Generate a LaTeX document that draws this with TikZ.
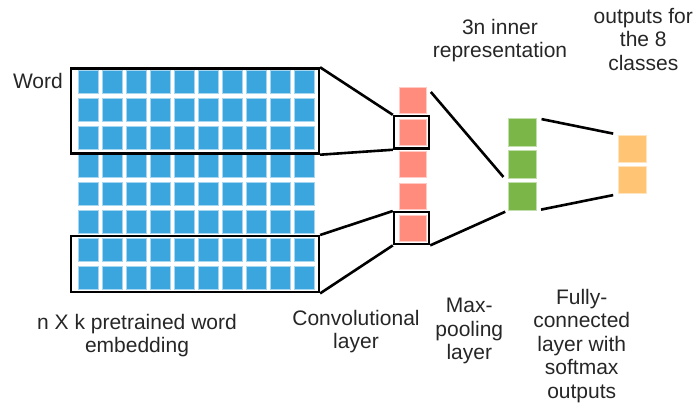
\documentclass[tikz,border=0pt]{standalone}
\usepackage{fontspec}
\setmainfont{Liberation Sans}
\definecolor{embblue}{HTML}{3BA5DD}
\definecolor{convred}{HTML}{FF8C7C}
\definecolor{poolgreen}{HTML}{7AB648}
\definecolor{outorange}{HTML}{FFC474}
\tikzset{
  cell/.style={draw=white!55!#1, line width=0.7pt, fill=#1, inner sep=0pt},
  window/.style={draw=black, line width=2.4pt, inner sep=0pt},
  link/.style={draw=black, line width=2.6pt},
  lbl/.style={font=\fontsize{21}{23.5}\selectfont, align=center, inner sep=0pt, text=black!85}
}
\begin{document}
\begin{tikzpicture}[x=1pt,y=-1pt]
\useasboundingbox (0,0) rectangle (695,409);

% n x k embedding matrix
\foreach \r in {1,...,8}{
  \foreach \c in {1,...,10}{
    \node[cell=embblue, minimum width=20pt, minimum height=23pt]
      (e-\r-\c) at ({88+24*(\c-1)}, {82.2+28*(\r-1)}) {};
  }
}
% filter windows over the matrix
\node[window, minimum width=248pt, minimum height=85pt] (winA) at (194.9,111) {};
\node[window, minimum width=248pt, minimum height=56pt] (winB) at (194.9,264.2) {};

% convolutional layer
\foreach \i/\y in {1/100,2/132,3/164,4/196,5/228}{
  \node[cell=convred, minimum width=26.5pt, minimum height=26pt] (cv\i) at (412.7,\y) {};
}
\node[window, minimum width=35pt, minimum height=32.5pt] (winC) at (411.5,132.3) {};
\node[window, minimum width=35pt, minimum height=32pt] (winD) at (411.5,228.2) {};

% max-pooling layer
\foreach \i/\y in {1/132.2,2/164.4,3/196.4}{
  \node[cell=poolgreen, minimum width=28pt, minimum height=27.5pt] (mp\i) at (522.3,\y) {};
}

% outputs
\node[cell=outorange, minimum width=27.5pt, minimum height=27.5pt] (o1) at (632.2,148.7) {};
\node[cell=outorange, minimum width=27.5pt, minimum height=27.5pt] (o2) at (632.2,180) {};

% connectors
\draw[link] (winA.north east) -- (winC.north west);
\draw[link] (winA.south east) -- (winC.south west);
\draw[link] (winB.north east) -- (winD.north west);
\draw[link] (winB.south east) -- (winD.south west);
\draw[link, shorten <=7pt, shorten >=7pt] (cv1.north east) -- (mp3.north west);
\draw[link, shorten >=3pt] (winD.south east) -- (mp3.south west);
\draw[link, shorten <=5pt, shorten >=5pt] (mp1.north east) -- (o1.north west);
\draw[link, shorten <=4.5pt, shorten >=5pt] (mp3.south east) -- (o2.south west);

% labels (anchored at the baseline of their last line)
\node[lbl, anchor=base east] (tword) at (63,88.3) {Word};
\node[lbl, anchor=base] (temb) at (137,352.5) {n X k pretrained word\\embedding};
\node[lbl, anchor=base] (tconv) at (356,348.5) {Convolutional\\layer};
\node[lbl, anchor=base] (tpool) at (469.3,359.7) {Max-\\pooling\\layer};
\node[lbl, anchor=base] (tfc) at (581.7,398) {Fully-\\connected\\layer with\\softmax\\outputs};
\node[lbl, anchor=base] (trep) at (500,58) {3n inner\\representation};
\node[lbl, anchor=base] (tout) at (643.3,70.3) {outputs for\\the 8\\classes};
\end{tikzpicture}
\end{document}
